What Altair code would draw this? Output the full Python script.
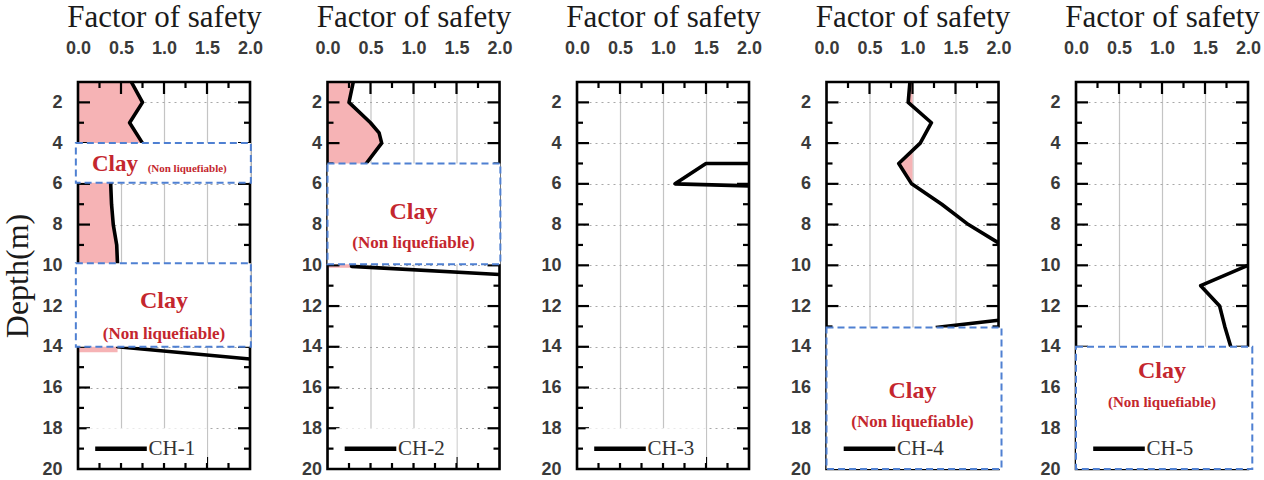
import altair as alt
import pandas as pd

# ---------------------------------------------------------------------------
# Data: factor of safety against liquefaction vs depth for five boreholes
# ---------------------------------------------------------------------------
boreholes = ["CH-1", "CH-2", "CH-3", "CH-4", "CH-5"]

# profile lines (depth in m, factor of safety); seg splits a profile into pieces
ch1_depth = [1, 2, 3, 4, 6, 7, 8, 9, 10, 14, 14.6]
ch1_fs = [0.62, 0.75, 0.60, 0.75, 0.38, 0.39, 0.41, 0.45, 0.46, 0.46, 2.0]
ch1_seg = [0, 0, 0, 0, 0, 0, 0, 0, 0, 0, 0]

ch2_depth = [1, 2, 3, 3.5, 4, 5, 10.05, 10.45]
ch2_fs = [0.30, 0.25, 0.50, 0.60, 0.63, 0.45, 0.28, 2.0]
ch2_seg = [0, 0, 0, 0, 0, 0, 0, 0]

ch3_depth = [5.0, 5.0, 6.0, 6.1]
ch3_fs = [2.0, 1.5, 1.14, 2.0]
ch3_seg = [0, 0, 0, 0]

ch4_depth = [1, 2, 3, 4, 5, 6, 7, 8, 8.9, 12.7, 13.05]
ch4_fs = [0.97, 0.95, 1.22, 1.09, 0.84, 0.99, 1.34, 1.65, 2.0, 2.0, 1.27]
ch4_seg = [0, 0, 0, 0, 0, 0, 0, 0, 0, 1, 1]

ch5_depth = [10, 11, 12, 13, 14]
ch5_fs = [2.0, 1.45, 1.67, 1.73, 1.80]
ch5_seg = [0, 0, 0, 0, 0]

# shaded liquefiable zones: depth, lower and upper factor of safety bound
ch1_fill_depth = [1, 2, 3, 4, 6, 7, 8, 9, 10, 14, 14.27]
ch1_fill_lo = [0, 0, 0, 0, 0, 0, 0, 0, 0, 0, 0]
ch1_fill_hi = [0.62, 0.75, 0.60, 0.75, 0.38, 0.39, 0.41, 0.45, 0.46, 0.46, 0.46]
ch1_fill_seg = [0, 0, 0, 0, 0, 0, 0, 0, 0, 0, 0]

ch2_fill_depth = [1, 2, 3, 3.5, 4, 5, 10.05, 10.12]
ch2_fill_lo = [0, 0, 0, 0, 0, 0, 0, 0]
ch2_fill_hi = [0.30, 0.25, 0.50, 0.60, 0.63, 0.45, 0.30, 0.30]
ch2_fill_seg = [0, 0, 0, 0, 0, 0, 0, 0]

ch4_fill_depth = [1, 2, 2.2, 4.36, 5, 6]
ch4_fill_lo = [0.97, 0.95, 1.0, 1.0, 0.84, 0.99]
ch4_fill_hi = [1.0, 1.0, 1.0, 1.0, 1.0, 1.0]
ch4_fill_seg = [0, 0, 0, 1, 1, 1]

# non-liquefiable clay layers (top, bottom) in m
ch1_clay = [(4.0, 5.95), (9.9, 14.0)]
ch2_clay = [(5.0, 9.95)]
ch3_clay = []
ch4_clay = [(13.05, 20.0)]
ch5_clay = [(14.0, 20.0)]

fs_ticks = [0.0, 0.5, 1.0, 1.5, 2.0]
depth_ticks = [2, 4, 6, 8, 10, 12, 14, 16, 18, 20]
fs_major = [0.5, 1.0, 1.5]
fs_minor = [0.25, 0.75, 1.25, 1.75]
depth_major = [2, 4, 6, 8, 10, 12, 14, 16, 18]
depth_minor = [3, 5, 7, 9, 11, 13, 15, 17, 19]

profiles = [
    (ch1_depth, ch1_fs, ch1_seg),
    (ch2_depth, ch2_fs, ch2_seg),
    (ch3_depth, ch3_fs, ch3_seg),
    (ch4_depth, ch4_fs, ch4_seg),
    (ch5_depth, ch5_fs, ch5_seg),
]
fills = [
    (ch1_fill_depth, ch1_fill_lo, ch1_fill_hi, ch1_fill_seg),
    (ch2_fill_depth, ch2_fill_lo, ch2_fill_hi, ch2_fill_seg),
    None,
    (ch4_fill_depth, ch4_fill_lo, ch4_fill_hi, ch4_fill_seg),
    None,
]
clays = [ch1_clay, ch2_clay, ch3_clay, ch4_clay, ch5_clay]

# ---------------------------------------------------------------------------
# Layout and styling
# ---------------------------------------------------------------------------
W, H = 172, 387
GAP = 77.5  # distance between neighbouring plot frames
MAJOR_LEN, MINOR_LEN = 12, 6
SERIF = "Liberation Serif"
SANS = "Liberation Sans"
CLAY_RED = "#c4262e"
PINK = "#f6b3b5"
BOX_BLUE = "#4f80d2"

# horizontal extent of the clay boxes per panel (slightly past the frame)
box_x = [(-0.025, 2.01), (0.0, 2.01), (0.0, 2.0), (0.0, 2.035), (0.0, 2.05)]

# clay annotations: text, x, depth, font size
clay_labels = [
    [("Clay", 0.43, 5.03, 23), ("(Non liquefiable)", 1.27, 5.25, 11),
     ("Clay", 1.0, 11.75, 24), ("(Non liquefiable)", 1.0, 13.37, 17)],
    [("Clay", 1.0, 7.4, 24), ("(Non liquefiable)", 1.0, 8.9, 17)],
    [],
    [("Clay", 1.0, 16.17, 24), ("(Non liquefiable)", 1.0, 17.7, 17)],
    [("Clay", 1.0, 15.2, 24), ("(Non liquefiable)", 1.0, 16.7, 15)],
]

xs = alt.Scale(domain=[0, 2], nice=False, zero=False)
ys = alt.Scale(domain=[1, 20], reverse=True, nice=False, zero=False)


def x_axis():
    return alt.Axis(
        orient="top", values=fs_ticks, format=".1f", labelFlush=False,
        title="Factor of safety", titleFont=SERIF, titleFontSize=31,
        titleFontWeight="normal", titleColor="#1a1a1a", titlePadding=6,
        labelFont=SANS, labelFontSize=18, labelFontWeight="bold",
        labelColor="#3a3a3a", labelPadding=25, tickSize=0, domain=False,
        grid=True, gridColor="#c4c4c4", gridWidth=1.2,
    )


def y_axis(i):
    kw = dict(
        orient="left", values=depth_ticks, labelFont=SANS, labelFontSize=18,
        labelFontWeight="bold", labelColor="#3a3a3a",
        labelPadding=6 if i == 1 else 16,
        tickSize=0, domain=False, grid=True, gridColor="#a8a8a8",
        gridDash=[2, 4], gridWidth=1, minExtent=40, maxExtent=40,
    )
    if i == 0:
        kw.update(title="Depth(m)", titleFont=SERIF, titleFontSize=32,
                  titleFontWeight="normal", titleColor="#1a1a1a", titlePadding=4)
    else:
        kw.update(title="")
    return alt.Axis(**kw)


def panel(i):
    one = pd.DataFrame({"k": [0]})
    layers = []

    # axes and grid (the other layers share these scales and axes)
    layers.append(
        alt.Chart(pd.DataFrame({"fs": [0.0], "depth": [1.0]}))
        .mark_point(opacity=0)
        .encode(x=alt.X("fs:Q", scale=xs, axis=x_axis()),
                y=alt.Y("depth:Q", scale=ys, axis=y_axis(i)))
    )

    # shaded zone
    if fills[i] is not None:
        fd, lo, hi, sg = fills[i]
        fdf = pd.DataFrame({"depth": fd, "lo": lo, "hi": hi, "seg": sg})
        layers.append(
            alt.Chart(fdf).mark_area(orient="horizontal", color=PINK, clip=True)
            .encode(y=alt.Y("depth:Q"), x=alt.X("lo:Q"), x2="hi:Q",
                    detail="seg:N")
        )

    # factor of safety profile
    d, f, s = profiles[i]
    ldf = pd.DataFrame({"depth": d, "fs": f, "seg": s, "idx": list(range(len(d)))})
    layers.append(
        alt.Chart(ldf).mark_line(color="black", strokeWidth=3.6, clip=True,
                                 strokeJoin="round")
        .encode(x=alt.X("fs:Q"), y=alt.Y("depth:Q"),
                detail="seg:N", order="idx:Q")
    )

    # inward ticks on all four sides
    for vals, ln in ((depth_major, MAJOR_LEN), (depth_minor, MINOR_LEN)):
        tdf = pd.DataFrame({"depth": vals})
        for x0, x1 in ((0, ln), (W - ln, W)):
            layers.append(
                alt.Chart(tdf).mark_rule(color="black", strokeWidth=2.2)
                .encode(y=alt.Y("depth:Q"), x=alt.value(x0), x2=alt.value(x1))
            )
    for vals, ln in ((fs_major, MAJOR_LEN), (fs_minor, MINOR_LEN)):
        tdf = pd.DataFrame({"fs": vals})
        for y0, y1 in ((0, ln), (H - ln, H)):
            layers.append(
                alt.Chart(tdf).mark_rule(color="black", strokeWidth=2.2)
                .encode(x=alt.X("fs:Q"), y=alt.value(y0), y2=alt.value(y1))
            )

    # plot frame
    layers.append(
        alt.Chart(one).mark_rect(fill="transparent", stroke="black", strokeWidth=2.6)
        .encode(x=alt.value(0), x2=alt.value(W), y=alt.value(0), y2=alt.value(H))
    )

    # legend background
    layers.append(
        alt.Chart(one).mark_rect(fill="white")
        .encode(x=alt.datum(0.1), x2=alt.datum(1.5),
                y=alt.datum(18.0), y2=alt.datum(19.7))
    )

    # clay boxes
    if clays[i]:
        bx0, bx1 = box_x[i]
        cdf = pd.DataFrame({"top": [c[0] for c in clays[i]],
                            "bottom": [c[1] for c in clays[i]],
                            "x0": bx0, "x1": bx1})
        layers.append(
            alt.Chart(cdf).mark_rect(fill="white", stroke=BOX_BLUE, strokeWidth=2,
                                     strokeDash=[7, 4])
            .encode(x=alt.X("x0:Q"), x2="x1:Q",
                    y=alt.Y("top:Q"), y2="bottom:Q")
        )

    # legend line and label
    layers.append(
        alt.Chart(one).mark_rule(color="black", strokeWidth=4.5)
        .encode(x=alt.datum(0.2), x2=alt.datum(0.8), y=alt.datum(19.0))
    )
    layers.append(
        alt.Chart(one).mark_text(text=boreholes[i], font=SERIF, fontSize=21,
                                 color="#333333", align="left", baseline="middle")
        .encode(x=alt.datum(0.82), y=alt.datum(19.0))
    )

    # clay annotations
    for txt, xv, dv, size in clay_labels[i]:
        layers.append(
            alt.Chart(one).mark_text(text=txt, font=SERIF, fontSize=size,
                                     fontWeight="bold", color=CLAY_RED,
                                     align="center", baseline="middle")
            .encode(x=alt.datum(xv), y=alt.datum(dv))
        )

    return alt.layer(*layers).properties(width=W, height=H)


chart = (
    alt.hconcat(*[panel(i) for i in range(5)], spacing=GAP, bounds="flush")
    .properties(padding={"left": 1, "top": 1, "right": 0, "bottom": 1},
                background="white")
    .configure_view(stroke=None)
)

chart.save("out.html", embed_options={"renderer": "svg", "actions": False})
